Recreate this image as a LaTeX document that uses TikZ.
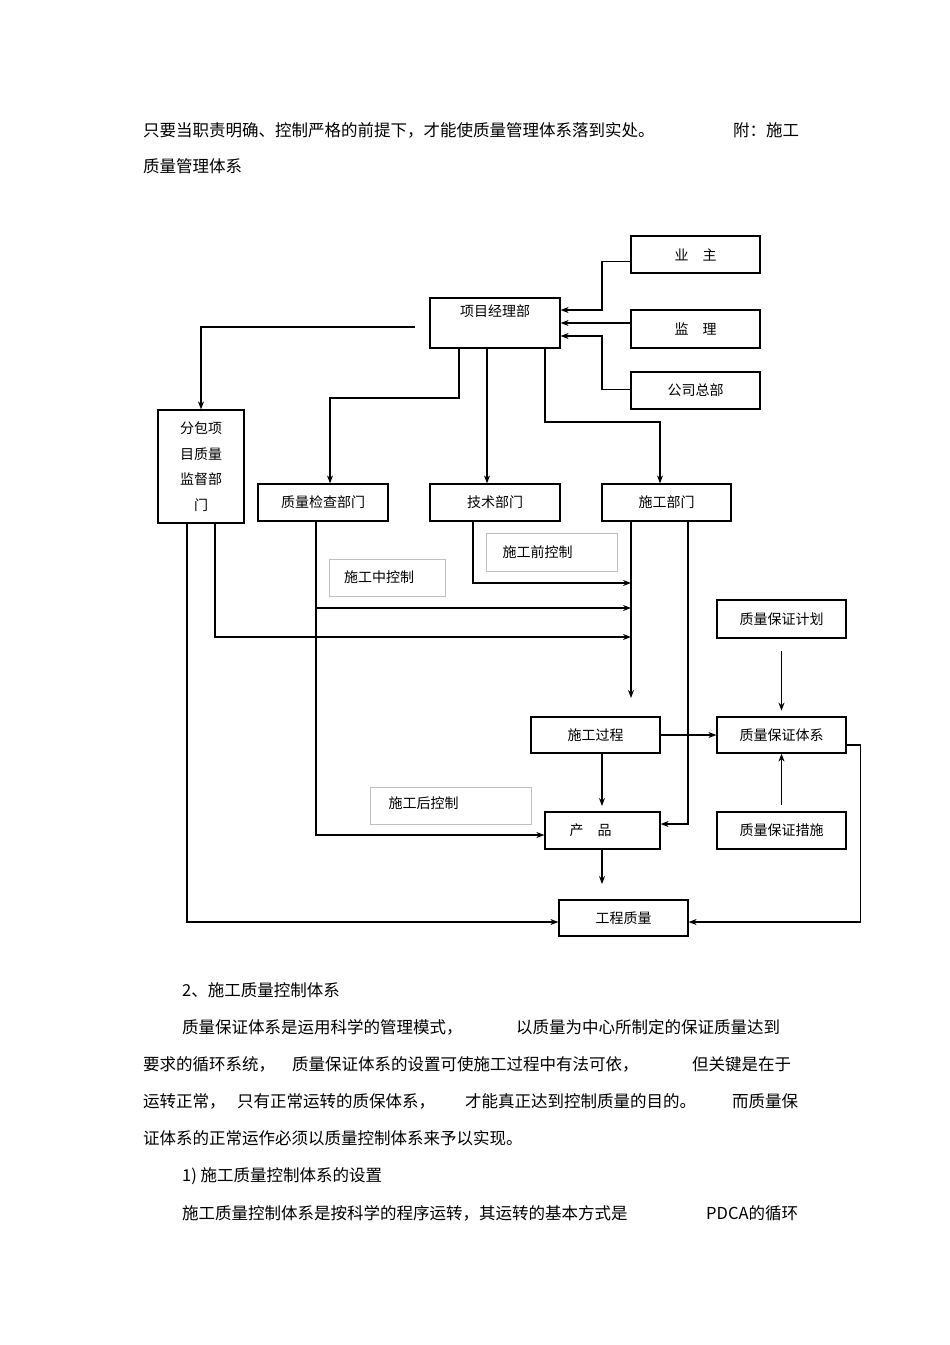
\documentclass[tikz,border=0pt]{standalone}
\usepackage{fontspec}
\setmainfont{Noto Sans CJK SC}
\usetikzlibrary{arrows.meta,calc}

\tikzset{
  box/.style={draw,line width=1.2pt,inner sep=0pt,font=\fontsize{14}{16}\selectfont},
  soft/.style={draw=black!25,line width=.6pt,inner sep=0pt,font=\fontsize{14}{16}\selectfont},
  link/.style={line width=1.2pt,-{Stealth[length=8pt,width=6pt]}},
  para/.style={anchor=base west,inner sep=0pt,font=\fontsize{16.5}{18}\selectfont}
}
\newcommand{\boxat}[6]{% name, style, x1, y1, x2, y2
  \node[#2,minimum width=#5pt-#3pt,minimum height=#6pt-#4pt] (#1) at ({(#3+#5)/2},{(#4+#6)/2}) {};}

\begin{document}
\begin{tikzpicture}[x=1pt,y=-1pt]
      \useasboundingbox (0,0) rectangle (950,1345);
      % text above
      \node[para] (t1) at (143,136) {只要当职责明确、控制严格的前提下，才能使质量管理体系落到实处。};
      \node[para] (t1b) at (733,136) {附：施工};
      \node[para] (t2) at (143,172) {质量管理体系};
      % boxes
      \boxat{own}{box}{631}{236}{760}{273}
      \boxat{pm}{box}{430}{298}{560}{348}
      \boxat{sup}{box}{631}{310}{760}{348}
      \boxat{hq}{box}{631}{372}{760}{409}
      \boxat{sub}{box}{158}{410}{244}{523}
      \boxat{qc}{box}{258}{484}{388}{521}
      \boxat{tec}{box}{430}{484}{560}{521}
      \boxat{con}{box}{602}{484}{731}{521}
      \boxat{pre}{soft}{486}{533}{617}{571}
      \boxat{mid}{soft}{329}{559}{445}{596}
      \boxat{plan}{box}{717}{600}{846}{638}
      \boxat{proc}{box}{531}{717}{660}{753}
      \boxat{sys}{box}{717}{717}{846}{753}
      \boxat{post}{soft}{370}{787}{531}{824}
      \boxat{prod}{box}{545}{812}{660}{849}
      \boxat{meas}{box}{717}{812}{846}{849}
      \boxat{qual}{box}{559}{900}{688}{936}
      % labels
      \node[box,draw=none] at (own)  {业\hspace{1em}主};
      \node[box,draw=none] at ($(pm)+(0,-12)$) {项目经理部};
      \node[box,draw=none] at (sup)  {监\hspace{1em}理};
      \node[box,draw=none] at (hq)   {公司总部};
      \node[box,draw=none,align=center,font=\fontsize{14}{25.5}\selectfont] at (sub) {分包项\\目质量\\监督部\\门};
      \node[box,draw=none] at (qc)   {质量检查部门};
      \node[box,draw=none] at (tec)  {技术部门};
      \node[box,draw=none] at (con)  {施工部门};
      \node[box,draw=none] at ($(pre)+(-14,0)$) {施工前控制};
      \node[box,draw=none] at ($(mid)+(-8,0)$)  {施工中控制};
      \node[box,draw=none] at (plan) {质量保证计划};
      \node[box,draw=none] at (proc) {施工过程};
      \node[box,draw=none] at (sys)  {质量保证体系};
      \node[box,draw=none] at ($(post)+(-27,-2)$) {施工后控制};
      \node[box,draw=none] at ($(prod)+(-12,0)$) {产\hspace{1em}品};
      \node[box,draw=none] at (meas) {质量保证措施};
      \node[box,draw=none] at (qual) {工程质量};
      % connectors
      \draw[link] (own.west) ++(0,7) -| (602,310) -- (pm.east |- 0,310);
      \draw[link] (sup.west) ++(0,-6) -- (pm.east |- 0,323);
      \draw[link] (hq.west) ++(0,-1) -| (602,336) -- (pm.east |- 0,336);
      \draw[link] (415,327) -| (sub.north);
      \draw[link] (pm.south -| 459,0) |- (330,398) -- (qc.north -| 330,0);
      \draw[link] (pm.south -| 487,0) -- (tec.north -| 487,0);
      \draw[link] (pm.south -| 545,0) |- (660,422) -- (con.north -| 660,0);
      \draw[link] (tec.south -| 473,0) |- (631,583);
      \draw[link] (con.south -| 631,0) -- (631,698);
      \draw[link] (qc.south -| 316,0) |- (631,608);
      \draw[link] (316,608) |- (prod.west |- 0,835);
      \draw[link] (sub.south -| 215,0) |- (631,637);
      \draw[link] (sub.south -| 187,0) |- (qual.west |- 0,922);
      \draw[link] (con.south -| 688,0) |- (prod.east |- 0,824);
      \draw[link] (proc.east) -- (sys.west);
      \draw[link] (proc.south -| 602,0) -- (602,806);
      \draw[link] (prod.south -| 602,0) -- (602,884);
      \draw[link] (plan.south) ++(0,12) -- ++(0,60);
      \draw[link] (meas.north) ++(0,-6) -- (sys.south);
      \draw[link] (sys.east) ++(0,10) -- ++(14,0) |- (qual.east |- 0,922);
      % text below
      \node[para] (t3) at (182,996)  {2、施工质量控制体系};
      \node[para] (t4) at (182,1033) {质量保证体系是运用科学的管理模式，};
      \node[para] (t4b) at (516,1033) {以质量为中心所制定的保证质量达到};
      \node[para] (t5) at (143,1070) {要求的循环系统，};
      \node[para] (t5b) at (292,1070) {质量保证体系的设置可使施工过程中有法可依，};
      \node[para] (t5c) at (692,1070) {但关键是在于};
      \node[para] (t6) at (143,1107) {运转正常，};
      \node[para] (t6b) at (237,1107) {只有正常运转的质保体系，};
      \node[para] (t6c) at (465,1107) {才能真正达到控制质量的目的。};
      \node[para] (t6d) at (732,1107) {而质量保};
      \node[para] (t7) at (143,1144) {证体系的正常运作必须以质量控制体系来予以实现。};
      \node[para] (t8) at (182,1181) {1) 施工质量控制体系的设置};
      \node[para] (t9) at (182,1219) {施工质量控制体系是按科学的程序运转，其运转的基本方式是};
      \node[para] (t9b) at (706,1219) {PDCA的循环};
\end{tikzpicture}
\end{document}
